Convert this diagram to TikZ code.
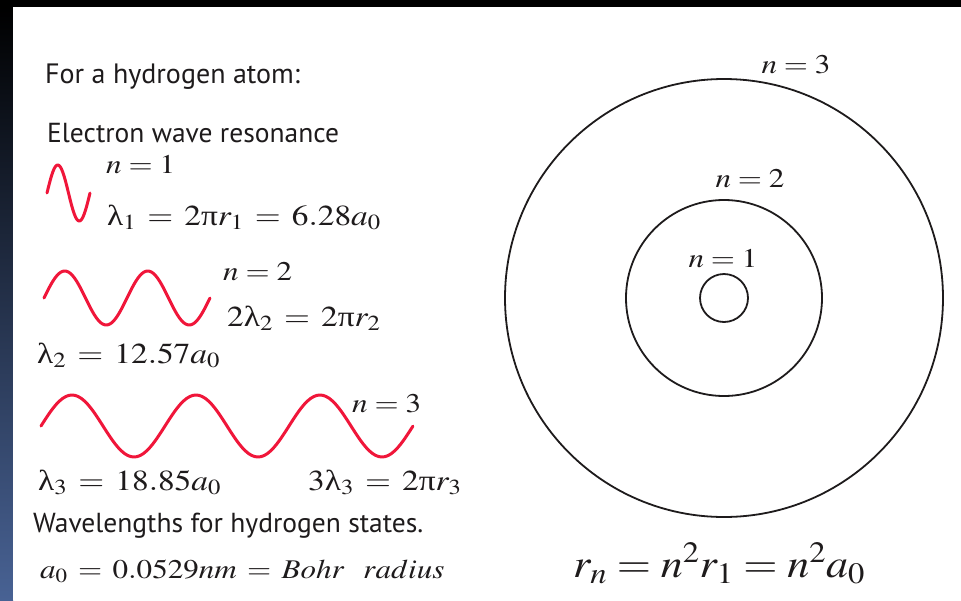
\documentclass[tikz,border=0pt]{standalone}
\usepackage{mathptmx}
\usepackage[no-math]{fontspec}
\usepackage{graphicx}
\setsansfont{PT Sans}
\newfontfamily\grkfont{Liberation Serif}
\usepackage{tikz}
\usetikzlibrary{calc}
\definecolor{waveRed}{RGB}{240,22,58}
\definecolor{inkBlack}{RGB}{30,27,28}
\definecolor{edgeBlue}{RGB}{72,98,148}

% upright greek as in the scan, and wide spacing round =
\newcommand{\glam}{\mbox{\grkfont λ}}
\newcommand{\gpi}{\mbox{\grkfont π}}
\newcommand{\eqs}{\mathrel{\,=\,}}
\newcommand{\wmath}[1]{\scalebox{1.15}[1]{$#1$}}

\tikzset{
  headtext/.style={font={\sffamily\fontsize{28}{32}\selectfont}, text=inkBlack, anchor=base west, inner sep=0pt},
  captext/.style={font={\sffamily\fontsize{27.5}{32}\selectfont}, text=inkBlack, anchor=base west, inner sep=0pt},
  eqtext/.style={font={\fontsize{27}{32}\selectfont}, text=inkBlack, anchor=base west, inner sep=0pt},
  eqrow/.style={eqtext, font={\fontsize{29}{34}\selectfont}},
  bigeq/.style={font={\fontsize{40}{48}\selectfont}, text=inkBlack, anchor=base west, inner sep=0pt},
  wave/.style={waveRed, line width=3pt, line cap=round, line join=round},
  orbit/.style={inkBlack, line width=1.8pt}
}

\begin{document}
\begin{tikzpicture}[x=1pt, y=-1pt]
\useasboundingbox (0,0) rectangle (961,600);
% dark frame
\fill[black] (0,0) rectangle (961,600);
\shade[top color=black, bottom color=edgeBlue] (0,7) rectangle (13,600);
\fill[white] (13,7) rectangle (961,600);

% left column: standing waves
\node[headtext] (title) at (45,83) {For a hydrogen atom:};
\node[captext] (resonance) at (47,142) {Electron wave resonance};
\foreach \xs/\wl/\ym/\amp/\k in {47/43/193/28/1, 44/83/298/27/2, 41/124/426/31/3}
{
\draw[wave] plot[domain=0:\k, samples=121, smooth] ({\xs+\x*\wl}, {\ym-\amp*sin(360*\x)});
}
\node[eqtext] (n1) at (106,173) {\wmath{n=1}};
\node[eqrow] (lam1) at (107,225) {\wmath{\glam_1 \eqs 2\gpi r_1 \eqs 6.28a_0}};
\node[eqtext] (n2) at (223,280) {\wmath{n=2}};
\node[eqrow] (lam2) at (227,326) {\wmath{2\glam_2 \eqs 2\gpi r_2}};
\node[eqrow] (val2) at (37,363) {\wmath{\glam_2 \eqs 12.57a_0}};
\node[eqtext] (n3) at (352,412) {\wmath{n=3}};
\node[eqrow] (val3) at (38,490) {\wmath{\glam_3 \eqs 18.85a_0}};
\node[eqrow] (lam3) at (308,490) {\wmath{3\glam_3 \eqs 2\gpi r_3}};
\node[captext] (states) at (33,532) {Wavelengths for hydrogen states.};
\node[eqtext] (bohr) at (40,578) {\wmath{a_0 \eqs 0.0529nm \eqs Bohr\ \ radius}};

% right: orbits
\coordinate (nucleus) at (724,298);
\foreach \r in {24,98,219}
{
\draw[orbit] (nucleus) circle[radius=\r];
}
\node[eqtext, anchor=base] (orb1) at (723,267) {\wmath{n=1}};
\node[eqtext, anchor=base] (orb2) at (750,187) {\wmath{n=2}};
\node[eqtext, anchor=base] (orb3) at (796,73) {\wmath{n=3}};
\node[bigeq] (radius) at (573,577) {\scalebox{1.1}[1]{$r_n = n^2 r_1 = n^2 a_0$}};
\end{tikzpicture}
\end{document}
